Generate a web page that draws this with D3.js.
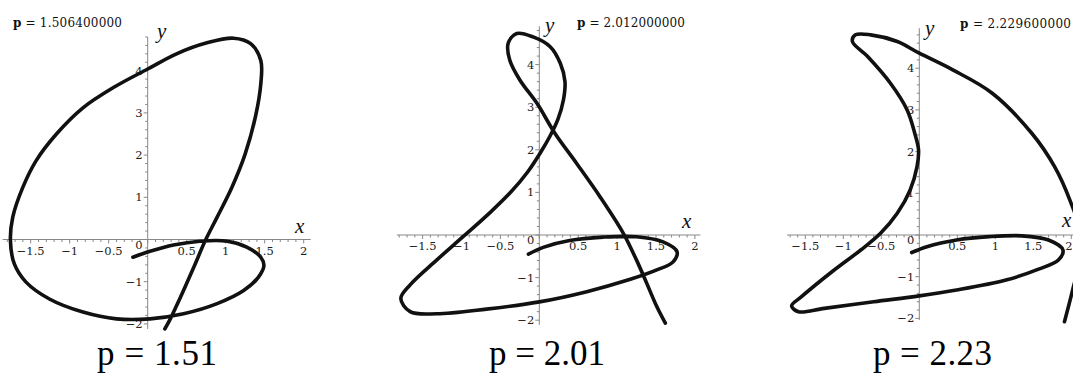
<!DOCTYPE html>
<html>
<head>
<meta charset="utf-8">
<script src="https://cdn.jsdelivr.net/npm/d3@7"></script>
<style>
  body { margin: 0; background: #fff; }
  svg { display: block; }
  .tick-label { font-family: "DejaVu Serif", "Liberation Serif", serif; font-size: 11.5px; fill: #222; }
  .axis-name { font-family: "Liberation Serif", serif; font-style: italic; font-size: 21px; fill: #111; }
  .title { font-family: "DejaVu Serif", "Liberation Serif", serif; font-size: 12px; fill: #111; }
  .caption { font-family: "Liberation Serif", serif; font-size: 35px; fill: #000; }
</style>
</head>
<body>
<div id="chart"></div>
<script>

var width = 1073,
  height = 374;

// parameter values
var pValues = ["1.506400000", "2.012000000", "2.229600000"];
var pCaptions = ["1.51", "2.01", "2.23"];

// tick labels
var xTicks = [-1.5, -1, -0.5, 0.5, 1, 1.5, 2];
var yTicks = [-2, -1, 1, 2, 3, 4];

// curve points, [x, y]
var curve1 = [[-0.19,-0.42],[0.03,-0.28],[0.33,-0.13],[0.67,-0.04],[1.02,-0.04],[1.27,-0.18],[1.45,-0.42],
  [1.49,-0.62],[1.42,-0.89],[1.23,-1.21],[0.89,-1.52],[0.46,-1.76],[0.03,-1.88],[-0.40,-1.88],[-0.83,-1.72],
  [-1.26,-1.41],[-1.56,-1.01],[-1.71,-0.58],[-1.76,-0.02],[-1.73,0.53],[-1.60,1.24],[-1.43,1.87],[-1.17,2.50],
  [-0.83,3.12],[-0.44,3.60],[0,4.04],[0.37,4.40],[0.76,4.66],[1.10,4.77],[1.32,4.64],[1.45,4.24],[1.45,3.69],
  [1.38,2.90],[1.25,2.03],[1.08,1.24],[0.89,0.53],[0.74,-0.02],[0.59,-0.66],[0.42,-1.37],[0.29,-1.88],[0.22,-2.12]];

var curve2 = [[-0.14,-0.45],[0.05,-0.29],[0.39,-0.13],[0.82,-0.05],[1.25,-0.04],[1.59,-0.16],[1.77,-0.39],
  [1.72,-0.63],[1.51,-0.82],[1.17,-1.04],[0.61,-1.33],[0,-1.57],[-0.68,-1.74],[-1.32,-1.85],[-1.66,-1.80],
  [-1.78,-1.49],[-1.66,-1.17],[-1.32,-0.59],[-0.98,-0.04],[-0.62,0.55],[-0.36,1.02],[-0.15,1.48],[0.02,1.95],
  [0.14,2.33],[0.24,2.72],[0.31,3.17],[0.33,3.60],[0.27,4.03],[0.14,4.42],[-0.08,4.65],[-0.29,4.73],[-0.40,4.50],
  [-0.38,4.11],[-0.25,3.64],[-0.03,3.09],[0.20,2.39],[0.48,1.68],[0.78,0.90],[1.08,0.04],[1.25,-0.59],
  [1.38,-1.13],[1.51,-1.68],[1.62,-2.07]];

var curve3 = [[-0.10,-0.42],[0.10,-0.28],[0.49,-0.12],[0.92,-0.04],[1.35,-0.02],[1.70,-0.12],[1.89,-0.36],
  [1.83,-0.60],[1.57,-0.82],[1.14,-1.08],[0.49,-1.32],[0,-1.46],[-0.60,-1.60],[-1.25,-1.76],[-1.59,-1.84],
  [-1.68,-1.70],[-1.55,-1.48],[-1.12,-0.84],[-0.77,-0.36],[-0.51,0.04],[-0.29,0.52],[-0.12,1.08],[-0.03,1.64],
  [-0.01,2.04],[-0.06,2.44],[-0.16,3.00],[-0.38,3.64],[-0.68,4.28],[-0.88,4.64],[-0.84,4.80],[-0.64,4.80],
  [-0.29,4.64],[0,4.36],[0.44,3.96],[0.96,3.40],[1.48,2.44],[1.78,1.64],[1.98,0.84],[2.15,-0.2],[2.02,-1.3],
  [1.91,-2.08]];

var curves = [curve1, curve2, curve3];

// panel layout: origin in px, px per unit, axis extents
var panels = [
  {ox: 147.7, oy: 239.5, kx: 78, ky: 42.2, xExt: [-1.86, 2.09], yExt: [-2.12, 4.8],
   title: [13, 27, 109], yName: [157, 38], xName: [295, 233], cap: [97, 120]},
  {ox: 539.3, oy: 235, kx: 77.8, ky: 42.6, xExt: [-1.83, 2.07], yExt: [-2.11, 4.9],
   title: [577, 27, 108], yName: [545, 32], xName: [682, 228], cap: [489, 116]},
  {ox: 919.3, oy: 235, kx: 76, ky: 41.7, xExt: [-1.74, 2.2], yExt: [-2.04, 4.96],
   title: [960, 28, 111], yName: [925, 35], xName: [1062, 227], cap: [873, 119]}
];

var svg = d3.select("#chart").append("svg")
  .attr("width", width)
  .attr("height", height);

function fmt(v){
  return (v < 0 ? "\u2212" : "") + Math.abs(v);
}

panels.forEach(function(pn, k){
  var x = d3.scaleLinear().domain(pn.xExt)
    .range([pn.ox + pn.kx * pn.xExt[0], pn.ox + pn.kx * pn.xExt[1]]);
  var y = d3.scaleLinear().domain(pn.yExt)
    .range([pn.oy - pn.ky * pn.yExt[0], pn.oy - pn.ky * pn.yExt[1]]);

  var g = svg.append("g");

  //axes lines
  g.append("line")
    .attr("x1", x(pn.xExt[0])).attr("x2", x(pn.xExt[1]))
    .attr("y1", y(0)).attr("y2", y(0))
    .attr("stroke", "#888").attr("stroke-width", 1);
  g.append("line")
    .attr("x1", x(0)).attr("x2", x(0))
    .attr("y1", y(pn.yExt[0])).attr("y2", y(pn.yExt[1]))
    .attr("stroke", "#888").attr("stroke-width", 1);

  //minor + major ticks
  var xt = d3.range(Math.ceil(pn.xExt[0] * 10), Math.floor(pn.xExt[1] * 10) + 1);
  g.selectAll("line.xt").data(xt).enter().append("line")
    .attr("class", "xt")
    .attr("x1", function(d){ return x(d / 10); })
    .attr("x2", function(d){ return x(d / 10); })
    .attr("y1", y(0))
    .attr("y2", function(d){ return y(0) + (d % 5 == 0 ? 4 : 2.5); })
    .attr("stroke", "#888");

  var yt = d3.range(Math.ceil(pn.yExt[0] * 5), Math.floor(pn.yExt[1] * 5) + 1);
  g.selectAll("line.yt").data(yt).enter().append("line")
    .attr("class", "yt")
    .attr("x1", x(0))
    .attr("x2", function(d){ return x(0) - (d % 5 == 0 ? 4 : 2.5); })
    .attr("y1", function(d){ return y(d / 5); })
    .attr("y2", function(d){ return y(d / 5); })
    .attr("stroke", "#888");

  //tick labels
  g.selectAll("text.xl").data(xTicks.filter(function(d){ return d <= pn.xExt[1] && d >= pn.xExt[0]; }))
    .enter().append("text")
    .attr("class", "tick-label xl")
    .attr("x", function(d){ return Math.min(x(d), width - 4); })
    .attr("y", y(0) + 15)
    .attr("text-anchor", "middle")
    .text(fmt);

  g.append("text")
    .attr("class", "tick-label")
    .attr("x", x(0) - 5)
    .attr("y", y(0) + 9)
    .attr("text-anchor", "end")
    .text("0");

  g.selectAll("text.yl").data(yTicks)
    .enter().append("text")
    .attr("class", "tick-label yl")
    .attr("x", x(0) - 5)
    .attr("y", function(d){ return y(d); })
    .attr("dy", "0.35em")
    .attr("text-anchor", "end")
    .text(fmt);

  //axis names
  g.append("text").attr("class", "axis-name")
    .attr("x", pn.xName[0]).attr("y", pn.xName[1]).text("x");
  g.append("text").attr("class", "axis-name")
    .attr("x", pn.yName[0]).attr("y", pn.yName[1]).text("y");

  //the curve
  var line = d3.line()
    .x(function(d){ return x(d[0]); })
    .y(function(d){ return y(d[1]); })
    .curve(d3.curveCatmullRom.alpha(0.5));

  g.append("path")
    .datum(curves[k])
    .attr("d", line)
    .attr("fill", "none")
    .attr("stroke", "#111")
    .attr("stroke-width", 3.6)
    .attr("stroke-linecap", "round")
    .attr("stroke-linejoin", "round");

  //maple title
  var t = g.append("text").attr("class", "title")
    .attr("x", pn.title[0]).attr("y", pn.title[1])
    .attr("textLength", pn.title[2])
    .attr("lengthAdjust", "spacing");
  t.append("tspan").attr("font-weight", "bold").text("p");
  t.append("tspan").text(" = " + pValues[k]);

  //caption below
  svg.append("text").attr("class", "caption")
    .attr("x", pn.cap[0]).attr("y", 365)
    .attr("textLength", pn.cap[1])
    .attr("lengthAdjust", "spacing")
    .text("p = " + pCaptions[k]);
});

</script>
</body>
</html>
